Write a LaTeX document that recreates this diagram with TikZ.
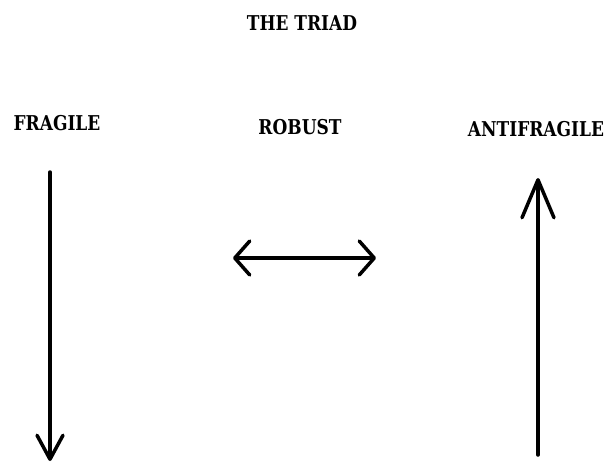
\documentclass[tikz,border=0pt]{standalone}
\usepackage{fontspec}
\setmainfont{DejaVu Serif}
\usepackage{tikz}
\usetikzlibrary {arrows.meta,
                 positioning}
\newcommand{\tallword}[1]{\scalebox{1}[1.2]{\bfseries\fontsize{17}{20}\selectfont #1}}
\tikzset{
        heading/.style={inner sep=0pt},
        myarrow/.style={line width=3.5pt, line cap=round},
 }
\begin{document}
\begin{tikzpicture}[x=1pt, y=-1pt]
    \useasboundingbox (0,0) rectangle (605,467);

    \node[heading] (title) at (302,23) {\tallword{THE TRIAD}};

    \node[heading] (fragile) at (57,123) {\tallword{FRAGILE}};
    \node[heading] (robust) at (300,127) {\tallword{ROBUST}};
    \node[heading] (anti) at (536,129) {\tallword{ANTIFRAGILE}};

    % fragile: goes down
    \coordinate (fragTop) at (50,172);
    \coordinate (fragEnd) at (50,461);
    \draw[myarrow, -{Straight Barb[length=24pt, width=26pt, line cap=round, line join=round]}] (fragTop) -- (fragEnd);

    % robust: both ways
    \coordinate (robLeft) at (233,258);
    \coordinate (robRight) at (376,258);
    \draw[myarrow, {Straight Barb[length=15pt, width=34pt, line cap=round, line join=round]}-{Straight Barb[length=15pt, width=34pt, line cap=round, line join=round]}] (robLeft) -- (robRight);

    % antifragile: goes up
    \coordinate (antiBottom) at (538,455);
    \coordinate (antiEnd) at (538,178);
    \draw[myarrow, -{Straight Barb[length=38pt, width=32pt, line cap=round, line join=round]}] (antiBottom) -- (antiEnd);
\end{tikzpicture}
\end{document}
